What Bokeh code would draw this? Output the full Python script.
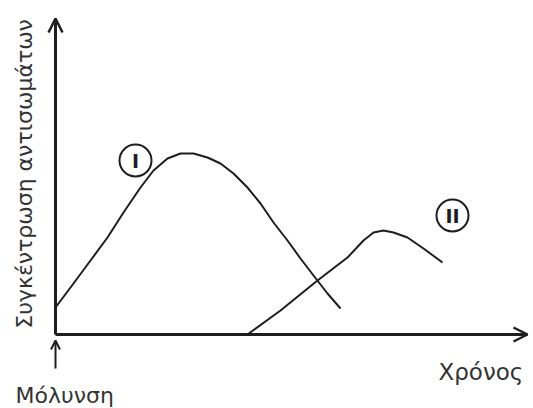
import math
from bokeh.plotting import figure
from bokeh.models import Range1d, Arrow, OpenHead
from bokeh.core.properties import value
from bokeh.embed import file_html
from bokeh.resources import INLINE

# Schematic data (arbitrary units: time, antibody concentration)
TIME_I = [0, 0.9, 1.75, 2.6, 3.4, 4.25, 4.9, 5.6, 6.25, 6.9, 7.6, 8.25, 8.9,
          9.6, 10.25, 10.9, 11.6, 12.25, 12.9, 13.6, 14.25]
CONC_I = [1.35, 2.55, 3.7, 4.85, 6.1, 7.35, 8.2, 8.8, 9.05, 9.05, 8.85, 8.55, 8.05,
          7.35, 6.55, 5.6, 4.7, 3.8, 2.95, 2.05, 1.3]
TIME_II = [9.6, 11.25, 13.1, 14.6, 15.4, 15.9, 16.4, 16.9, 17.6, 18.4, 19.35]
CONC_II = [0.0, 1.2, 2.7, 3.85, 4.7, 5.1, 5.2, 5.1, 4.85, 4.3, 3.6]

LABELS = ["I", "II"]
LABEL_X = [4.0, 19.85]
LABEL_Y = [8.7, 5.95]

X_AXIS_END = 23.6
Y_AXIS_END = 15.8
INFECTION_ARROW = (-1.7, -0.3)

X_TITLE = "Χρόνος"
Y_TITLE = "Συγκέντρωση αντισωμάτων"
INFECTION = "Μόλυνση"

FONT = "DejaVu Sans"
TEXT_COLOR = "#333333"
LINE_COLOR = "#1e1e1e"

p = figure(width=533, height=408, output_backend="svg", toolbar_location=None,
           x_range=Range1d(-2.75, 23.9), y_range=Range1d(-3.7, 16.7),
           x_axis_location=None, y_axis_location=None, min_border=0)
p.outline_line_color = None
p.xgrid.visible = False
p.ygrid.visible = False
p.background_fill_color = "white"

# Axes with arrow heads
p.add_layout(Arrow(x_start=0, y_start=0, x_end=0, y_end=Y_AXIS_END,
                   line_width=3, line_color=LINE_COLOR,
                   end=OpenHead(size=14, line_width=2.5, line_color=LINE_COLOR)))
p.add_layout(Arrow(x_start=0, y_start=0, x_end=X_AXIS_END, y_end=0,
                   line_width=3, line_color=LINE_COLOR,
                   end=OpenHead(size=14, line_width=2.5, line_color=LINE_COLOR)))
# Infection marker arrow
p.add_layout(Arrow(x_start=0, y_start=INFECTION_ARROW[0], x_end=0, y_end=INFECTION_ARROW[1],
                   line_width=2, line_color=LINE_COLOR,
                   end=OpenHead(size=9, line_width=2, line_color=LINE_COLOR)))

# Curves
p.line(TIME_I, CONC_I, line_width=2, line_color=LINE_COLOR, line_join="round")
p.line(TIME_II, CONC_II, line_width=2, line_color=LINE_COLOR, line_join="round")

# Circle labels
p.scatter(LABEL_X, LABEL_Y, marker="circle", size=32, fill_color="white",
          line_color=LINE_COLOR, line_width=2)
p.text(LABEL_X, LABEL_Y, text=LABELS, text_align="center", text_baseline="middle",
       text_font=value(FONT), text_font_style="bold", text_font_size="19px",
       text_color=LINE_COLOR)

# Titles
p.text([-1.55], [8.03], text=[Y_TITLE], angle=math.pi / 2, text_align="center",
       text_baseline="middle", text_font=value(FONT), text_font_size="22px",
       text_color=TEXT_COLOR)
p.text([19.15], [-1.85], text=[X_TITLE], text_align="left", text_baseline="alphabetic",
       text_font=value(FONT), text_font_size="23px", text_color=TEXT_COLOR)
p.text([-2.0], [-3.05], text=[INFECTION], text_align="left", text_baseline="alphabetic",
       text_font=value(FONT), text_font_size="22px", text_color=TEXT_COLOR)

open("out.html", "w").write(file_html(p, INLINE))
